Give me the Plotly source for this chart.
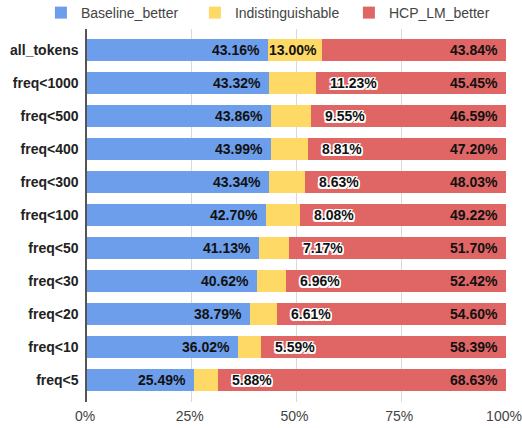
import plotly.graph_objects as go

categories = ["all_tokens", "freq<1000", "freq<500", "freq<400", "freq<300", "freq<100",
              "freq<50", "freq<30", "freq<20", "freq<10", "freq<5"]
baseline_better = [43.16, 43.32, 43.86, 43.99, 43.34, 42.70, 41.13, 40.62, 38.79, 36.02, 25.49]
indistinguishable = [13.00, 11.23, 9.55, 8.81, 8.63, 8.08, 7.17, 6.96, 6.61, 5.59, 5.88]
hcp_lm_better = [43.84, 45.45, 46.59, 47.20, 48.03, 49.22, 51.70, 52.42, 54.60, 58.39, 68.63]
x_ticks = [0, 25, 50, 75, 100]
x_tick_labels = ["0%", "25%", "50%", "75%", "100%"]

BLUE, YELLOW, RED = "#6d9eeb", "#ffd966", "#e06666"
FONT = "Liberation Sans"
TXT = "#111111"
halo = ("-1.5px -1.5px 0 #fff, 1.5px -1.5px 0 #fff, -1.5px 1.5px 0 #fff, 1.5px 1.5px 0 #fff, "
        "0 1.5px 0 #fff, 0 -1.5px 0 #fff, 1.5px 0 0 #fff, -1.5px 0 0 #fff")


def fmt(v):
    return f"{v:.2f}%"


fig = go.Figure()
for name, vals, col in [("Baseline_better", baseline_better, BLUE),
                        ("Indistinguishable", indistinguishable, YELLOW),
                        ("HCP_LM_better", hcp_lm_better, RED)]:
    fig.add_trace(go.Bar(name=name, y=categories, x=vals, orientation="h",
                         marker=dict(color=col, line=dict(width=0)), hoverinfo="skip"))

annotations = []
for c, b, i, h in zip(categories, baseline_better, indistinguishable, hcp_lm_better):
    inside_font = dict(family=FONT, size=14, color=TXT, weight="bold")
    annotations.append(dict(x=b, y=c, text=fmt(b), xanchor="right", xshift=-6,
                            showarrow=False, font=inside_font))
    if i >= 12:
        annotations.append(dict(x=b + i, y=c, text=fmt(i), xanchor="right", xshift=-3,
                                showarrow=False, font=inside_font))
    else:
        annotations.append(dict(x=b + i, y=c, text=fmt(i), xanchor="left", xshift=12,
                                showarrow=False,
                                font=dict(family=FONT, size=14, color=TXT, weight="bold",
                                          shadow=halo)))
    annotations.append(dict(x=b + i + h, y=c, text=fmt(h), xanchor="right", xshift=-6,
                            showarrow=False, font=inside_font))

fig.update_layout(
    barmode="stack", bargap=1/3,
    width=522, height=428,
    margin=dict(l=87, r=16, t=29, b=26, autoexpand=False),
    paper_bgcolor="white", plot_bgcolor="white",
    font=dict(family=FONT, size=14, color="#444444"),
    legend=dict(orientation="h", x=-0.11, xanchor="left", y=1.0, yanchor="bottom",
                font=dict(family=FONT, size=14, color="#444444"), traceorder="normal",
                itemwidth=30, entrywidth=109),
    annotations=annotations,
    showlegend=True,
)
fig.update_xaxes(range=[0, 100.0001], tickvals=x_ticks, ticktext=x_tick_labels,
                 showgrid=True, gridcolor="#d9d9d9", gridwidth=1, zeroline=False,
                 showline=False, ticks="", ticklabeloverflow="allow", ticklabelstandoff=4,
                 ticklabelshift=-2,
                 tickfont=dict(family=FONT, size=14, color="#444444"))
fig.update_yaxes(categoryorder="array", categoryarray=categories,
                 range=[10.667, -0.636], showgrid=False, zeroline=False,
                 showline=True, linecolor="#555555", linewidth=1.5, ticks="",
                 ticksuffix=" ",
                 tickfont=dict(family=FONT, size=14, color="#222222", weight="bold"))

fig.write_html("out.html", post_script="document.body.style.margin='0';",
               config={"displayModeBar": False})
